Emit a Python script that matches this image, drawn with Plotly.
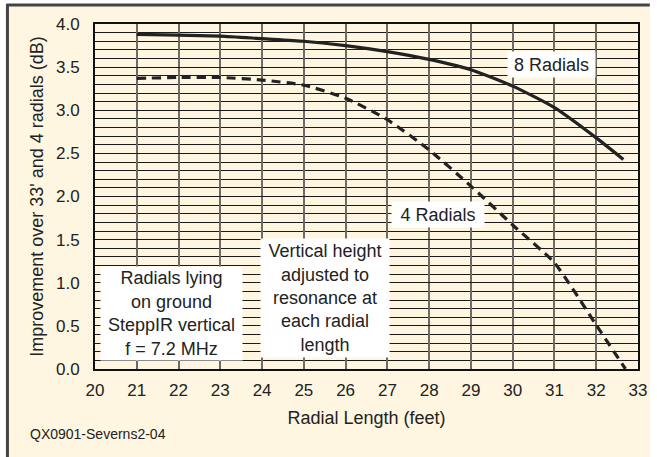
import plotly.graph_objects as go

# ---- data ----
radial_len_8 = [21, 22, 23, 24, 25, 26, 27, 28, 29, 30, 31, 32, 32.65]
gain_8 = [3.88, 3.87, 3.86, 3.83, 3.80, 3.75, 3.68, 3.59, 3.47, 3.28, 3.03, 2.68, 2.43]

radial_len_4 = [21, 22, 23, 24, 25, 26, 27, 28, 29, 30, 31, 32, 32.7]
gain_4 = [3.37, 3.38, 3.38, 3.35, 3.29, 3.14, 2.89, 2.54, 2.12, 1.67, 1.23, 0.51, 0.0]

x_ticks = list(range(20, 34))
y_ticks = [0.0, 0.5, 1.0, 1.5, 2.0, 2.5, 3.0, 3.5, 4.0]

W, H = 657, 457
L, R, T, B = 95, 10, 24, 88
PW, PH = W - L - R, H - T - B
CREAM = "#FEF6E1"
INK = "#222222"
FONT = "Liberation Sans, Arial, sans-serif"


def px(x):
    return (x - L) / PW


def py(y):
    return (H - B - y) / PH


fig = go.Figure()
fig.add_trace(go.Scatter(x=radial_len_8, y=gain_8, mode="lines",
                         line=dict(color=INK, width=3.2, shape="spline", smoothing=0.6),
                         hoverinfo="skip", showlegend=False))
fig.add_trace(go.Scatter(x=radial_len_4, y=gain_4, mode="lines",
                         line=dict(color=INK, width=3.2, dash="9px,6px", shape="spline", smoothing=0.6),
                         hoverinfo="skip", showlegend=False))

shapes = [
    dict(type="rect", xref="paper", yref="paper", x0=px(5), x1=px(W + 2), y0=py(H + 2), y1=py(4),
         fillcolor=CREAM, line=dict(width=0), layer="below"),
    dict(type="line", xref="paper", yref="paper", x0=px(5), x1=px(W + 2), y0=py(5), y1=py(5),
         line=dict(color="#444444", width=3)),
    dict(type="line", xref="paper", yref="paper", x0=px(6), x1=px(6), y0=py(4), y1=py(H + 2),
         line=dict(color="#444444", width=3)),
]

box_font = dict(family=FONT, size=18, color=INK)
annotations = [
    dict(x=21.83, y=0.64, xref="x", yref="y", text="Radials lying<br>on ground<br>SteppIR vertical<br>f = 7.2 MHz",
         showarrow=False, bgcolor="white", width=141, height=93, borderpad=0, font=box_font, align="center"),
    dict(x=25.51, y=0.82, xref="x", yref="y", text="Vertical height<br>adjusted to<br>resonance at<br>each radial<br>length",
         showarrow=False, bgcolor="white", width=128, height=118, borderpad=0, font=box_font, align="center"),
    dict(x=30.92, y=3.53, xref="x", yref="y", text="8 Radials",
         showarrow=False, bgcolor="white", width=87, height=25, borderpad=0, font=box_font),
    dict(x=28.22, y=1.79, xref="x", yref="y", text="4 Radials",
         showarrow=False, bgcolor="white", width=92, height=25, borderpad=0, font=box_font),
    dict(x=px(27), y=py(434), xref="paper", yref="paper", xanchor="left", yanchor="middle",
         text="QX0901-Severns2-04", showarrow=False, font=dict(family=FONT, size=14, color=INK)),
]

fig.update_layout(
    width=W, height=H,
    margin=dict(l=L, r=R, t=T, b=B),
    paper_bgcolor="white",
    plot_bgcolor=CREAM,
    shapes=shapes,
    annotations=annotations,
    font=dict(family=FONT, size=17, color=INK),
    xaxis=dict(range=[20, 33], tickmode="array", tickvals=x_ticks, ticktext=[str(v) for v in x_ticks],
               showgrid=True, gridcolor="#6f6a62", gridwidth=2,
               showline=True, linecolor="#111111", linewidth=2, mirror=True,
               zeroline=False, ticks="", ticklabelstandoff=5,
               title=dict(text="Radial Length (feet)", font=dict(size=18), standoff=12),
               tickfont=dict(size=17)),
    yaxis=dict(range=[0, 4], tickmode="array", tickvals=y_ticks, ticktext=[f"{v:.1f}" for v in y_ticks],
               showgrid=True, gridcolor="#1a1a1a", gridwidth=1,
               minor=dict(dtick=0.1, showgrid=True, gridcolor="#1a1a1a", gridwidth=1),
               showline=True, linecolor="#111111", linewidth=2, mirror=True,
               zeroline=False, ticks="", ticklabelstandoff=10,
               title=dict(text="Improvement over 33' and 4 radials (dB)", font=dict(size=18), standoff=8),
               tickfont=dict(size=17)),
)

fig.write_html("out.html")
